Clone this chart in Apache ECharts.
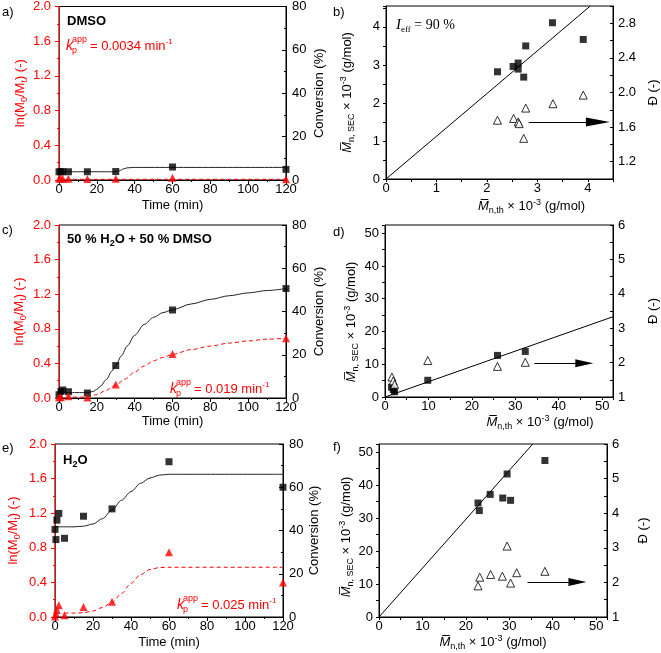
<!DOCTYPE html>
<html><head><meta charset="utf-8">
<script src="https://cdn.jsdelivr.net/npm/echarts@6/dist/echarts.min.js"></script>
<style>html,body{margin:0;padding:0;background:#fff}#c{width:661px;height:653px}</style>
</head><body><div id="c"></div>
<script>
// ---------------- DATA ----------------
// panel a (DMSO)
const tA = [0, 1, 2, 5, 15, 30, 60, 120];
const convA = [3.8, 3.8, 3.8, 3.8, 3.8, 3.9, 6.0, 4.9];
const lnA = [0.015, 0.015, 0.015, 0.015, 0.012, 0.015, 0.027, 0.01];
const fitTA = [0, 30, 32, 34, 36, 40, 120];
const fitConvA = [3.8, 3.8, 4.3, 5.1, 5.6, 5.8, 5.8];
const fitLnTA = [0, 120];
const fitLnA = [0.008, 0.008];

// panel c (50 % H2O + 50 % DMSO)
const tC = [0, 1, 2, 5, 15, 30, 60, 120];
const convC = [1.5, 3.0, 3.7, 2.9, 2.3, 15.0, 40.7, 50.6];
const lnTC = [0, 1, 5, 15, 30, 60, 120];
const lnC = [0.01, 0.01, 0.02, 0.005, 0.155, 0.51, 0.69];
const fitTC = [0, 15, 18, 20, 22, 25, 28, 30, 33, 36, 40, 45, 50, 55, 60, 70, 80, 90, 100, 110, 120];
const fitConvC = [2.5, 2.5, 3, 4, 5.5, 8.5, 12.5, 15, 19.5, 24, 29, 34, 37.3, 39.5, 40.8, 43.5, 45.6, 47.3, 48.6, 49.7, 50.6];
const fitLnTC = [0, 15, 20, 25, 30, 35, 40, 45, 50, 55, 60, 70, 80, 90, 100, 110, 120];
const fitLnC = [0.01, 0.01, 0.04, 0.09, 0.15, 0.22, 0.30, 0.37, 0.43, 0.47, 0.505, 0.56, 0.60, 0.635, 0.66, 0.68, 0.69];

// panel e (H2O)
const tE = [0, 0.5, 1, 2, 5, 15, 30, 60, 120];
const convE = [40.5, 35.8, 44.8, 47.9, 36.4, 46.6, 50.0, 71.8, 60.0];
const lnE = [0.005, 0.04, 0.08, 0.135, 0.02, 0.115, 0.175, 0.75, 0.40];
const fitTE = [0, 10, 15, 20, 25, 30, 35, 40, 45, 50, 55, 60, 120];
const fitConvE = [41.7, 41.7, 42, 43, 45.5, 49.5, 54, 58, 61.8, 64.3, 65.6, 66, 66];
const fitLnTE = [5, 10, 15, 20, 25, 30, 35, 40, 45, 50, 55, 60, 120];
const fitLnE = [0.045, 0.045, 0.05, 0.07, 0.11, 0.17, 0.27, 0.39, 0.49, 0.55, 0.572, 0.575, 0.575];

// panel b
const mthB = [2.21, 2.52, 2.62, 2.62, 2.73, 2.77, 3.30, 3.91];
const msecB = [2.82, 2.96, 2.89, 3.05, 2.68, 3.50, 4.11, 3.67];
const dthB = [2.21, 2.53, 2.62, 2.64, 2.73, 2.77, 3.31, 3.91];
const dispB = [1.68, 1.70, 1.66, 1.64, 1.47, 1.82, 1.87, 1.97];
const lineXB = [0, 4.05];
const lineYB = [0, 4.55];
const arrowXB = [2.83, 4.20];
const arrowYB = [1.66, 1.66];

// panel d
const mthD = [1.5, 1.9, 2.2, 9.85, 25.9, 32.3];
const msecD = [3.0, 2.3, 1.6, 5.1, 12.7, 13.9];
const dthD = [1.6, 1.9, 2.2, 9.85, 25.9, 32.3];
const dispD = [1.58, 1.47, 1.37, 2.06, 1.89, 2.01];
const lineXD = [0, 52.5];
const lineYD = [0, 24.5];
const arrowXD = [34.4, 45.9];
const arrowYD = [1.98, 1.98];

// panel f
const mthF = [22.8, 23.1, 25.6, 28.5, 29.5, 30.3, 38.2];
const msecF = [34.6, 32.3, 37.2, 36.1, 43.4, 35.4, 47.5];
const dthF = [22.8, 23.2, 25.7, 28.4, 29.5, 30.3, 31.7, 38.2];
const dispF = [1.90, 2.15, 2.23, 2.18, 3.05, 1.98, 2.28, 2.32];
const lineXF = [0, 35.4];
const lineYF = [0, 52.5];
const arrowXF = [34.2, 45.7];
const arrowYF = [2.01, 2.01];

// ---------------- STYLE / BUILD ----------------
const FONT = "'Liberation Sans Narrow','Liberation Sans',Arial,sans-serif";
const SERIF = "'Liberation Serif','DejaVu Serif',serif";
const RED = '#ff0000';
const BLK = '#000000';
const pairs = (xs, ys) => xs.map((x, i) => [x, ys[i]]);
const isMult = (v, s, o) => { const k = (v - (o || 0)) / s; return Math.abs(k - Math.round(k)) < 1e-6; };

const grids = [
  {left: 59, top: 6, width: 227, height: 174},   // a
  {left: 386, top: 6, width: 227, height: 173},  // b
  {left: 59, top: 225, width: 227, height: 173}, // c
  {left: 385, top: 225, width: 228, height: 172},// d
  {left: 55, top: 444, width: 228, height: 173}, // e
  {left: 379, top: 444, width: 228, height: 173} // f
].map(g => Object.assign({show: true, borderColor: BLK, borderWidth: 1, backgroundColor: 'transparent', containLabel: false}, g));

const nameRich = (color) => ({
  t: {fontSize: 13, fontFamily: FONT, color: color, lineHeight: 17},
  s: {fontSize: 9, fontFamily: FONT, color: color, lineHeight: 17, verticalAlign: 'bottom'},
  u: {fontSize: 9, fontFamily: FONT, color: color, lineHeight: 17, verticalAlign: 'top'},
  m: {fontSize: 13, fontFamily: FONT, fontStyle: 'italic', color: color, lineHeight: 17}
});

function baseAxis(gi, color) {
  return {
    gridIndex: gi, type: 'value',
    axisLine: {show: true, onZero: false, lineStyle: {color: color, width: 1}},
    axisTick: {show: true, inside: false, length: 4, lineStyle: {color: color}},
    splitLine: {show: false}, minorSplitLine: {show: false},
    axisLabel: {color: color, fontSize: 13, fontFamily: FONT},
    nameLocation: 'middle',
    nameTextStyle: {color: color, fontSize: 13, fontFamily: FONT, rich: nameRich(color)}
  };
}

function timeX(gi, gap) {
  const a = baseAxis(gi, BLK);
  Object.assign(a, {min: 0, max: 120, interval: 20, name: 'Time (min)', nameGap: gap});
  a.minorTick = {show: true, splitNumber: 2, length: 2, lineStyle: {color: BLK}};
  a.axisLabel.margin = 3;
  return a;
}
function lnY(gi, gap, pad) {
  const a = baseAxis(gi, RED);
  Object.assign(a, {position: 'left', min: 0, max: 2, interval: 0.4, z: 3,
    name: '{t|ln(M}{s|0}{t|/M}{s|t}{t|) (-)}', nameGap: gap, nameRotate: 90});
  a.minorTick = {show: true, splitNumber: 2, length: 2, lineStyle: {color: RED}};
  a.axisLabel.margin = 8;
  a.axisLabel.formatter = v => v.toFixed(1);
  a.nameTextStyle.padding = pad || 0;
  return a;
}
function convY(gi, gap) {
  const a = baseAxis(gi, BLK);
  Object.assign(a, {position: 'right', min: 0, max: 80, interval: 20, name: 'Conversion (%)', nameGap: gap, nameRotate: 90});
  a.axisTick.inside = true;
  a.minorTick = {show: true, splitNumber: 2, length: 2, lineStyle: {color: BLK}};
  a.axisLabel.margin = 6;
  return a;
}
function mX(gi, max, step, labStep, gap, pad) {
  const a = baseAxis(gi, BLK);
  Object.assign(a, {min: 0, max: max, interval: step, nameGap: gap,
    name: '{m|M\u0305}{s|n,th}{t| × 10}{u|-3}{t| (g/mol)}'});
  a.axisTick.length = 3;
  a.axisLabel.margin = 3;
  a.axisLabel.formatter = v => isMult(v, labStep) ? String(Math.round(v)) : '';
  a.nameTextStyle.padding = pad || 0;
  return a;
}
function mY(gi, max, step, labStep, gap, pad) {
  const a = baseAxis(gi, BLK);
  Object.assign(a, {position: 'left', min: 0, max: max, interval: step, nameGap: gap, nameRotate: 90,
    name: '{m|M\u0305}{s|n, SEC}{t| × 10}{u|-3}{t| (g/mol)}'});
  a.axisTick.length = 3;
  a.axisLabel.margin = 6;
  a.axisLabel.formatter = v => isMult(v, labStep) ? String(Math.round(v)) : '';
  a.nameTextStyle.padding = pad || 0;
  return a;
}
function dY(gi, min, max, step, labStep, labOrigin, labMin, labMax, dec, gap, pad) {
  const a = baseAxis(gi, BLK);
  Object.assign(a, {position: 'right', min: min, max: max, interval: step, nameGap: gap, nameRotate: 90, name: 'Đ (-)'});
  a.axisTick.inside = true;
  a.axisTick.length = 3;
  a.axisLabel.margin = 5;
  a.axisLabel.formatter = v => (isMult(v, labStep, labOrigin) && v > labMin - 1e-6 && v < labMax + 1e-6) ? v.toFixed(dec) : '';
  a.nameTextStyle.padding = pad || 0;
  return a;
}

const xAxes = [
  timeX(0, 19),
  mX(1, 4.5, 0.5, 1, 19, [0, 0, 0, 64]),
  timeX(2, 14),
  mX(3, 52.5, 5, 10, 17, [0, 0, 0, 82]),
  timeX(4, 19),
  mX(5, 52.5, 5, 10, 17)
];
const yAxes = [
  lnY(0, 28), convY(0, 27),
  mY(1, 4.55, 0.5, 1, 30), dY(1, 1.0, 3.0, 0.2, 0.4, 1.2, 1.2, 2.8, 1, 34),
  lnY(2, 31), convY(2, 27),
  mY(3, 52.5, 5, 10, 25, [0, 22, 0, 0]), dY(3, 1, 6, 0.5, 1, 0, 1, 6, 0, 34),
  lnY(4, 33), convY(4, 25),
  mY(5, 52.5, 5, 10, 24, [0, 13, 0, 0]), dY(5, 1, 6, 0.5, 1, 0, 1, 6, 0, 30)
];

const ARROW = 'path://M5,0L10,30L0,30Z';

function kinetics(gi, fitT, fitConv, t, conv, fitLnT, fitLn, lnT, ln) {
  return [
    {type: 'line', xAxisIndex: gi, yAxisIndex: 2 * gi + 1, data: pairs(fitT, fitConv), showSymbol: false,
     smooth: 0.3, smoothMonotone: 'x', lineStyle: {color: '#222', width: 1}, z: 2, silent: true},
    {type: 'line', xAxisIndex: gi, yAxisIndex: 2 * gi, data: pairs(fitLnT, fitLn), showSymbol: false,
     smooth: 0.3, smoothMonotone: 'x', lineStyle: {color: RED, width: 1, type: [4, 3]}, z: 2, silent: true},
    {type: 'scatter', xAxisIndex: gi, yAxisIndex: 2 * gi + 1, data: pairs(t, conv), symbol: 'rect', symbolSize: 7,
     itemStyle: {color: BLK}, z: 4},
    {type: 'scatter', xAxisIndex: gi, yAxisIndex: 2 * gi, data: pairs(lnT, ln), symbol: 'triangle', symbolSize: 8,
     itemStyle: {color: RED}, z: 5}
  ];
}
function molar(gi, lineX, lineY, mth, msec, dth, disp, arrX, arrY, headSize) {
  return [
    {type: 'line', xAxisIndex: gi, yAxisIndex: 2 * gi, data: pairs(lineX, lineY), showSymbol: false,
     lineStyle: {color: BLK, width: 1}, z: 2, silent: true},
    {type: 'scatter', xAxisIndex: gi, yAxisIndex: 2 * gi, data: pairs(mth, msec), symbol: 'rect', symbolSize: 7,
     itemStyle: {color: BLK}, z: 4},
    {type: 'scatter', xAxisIndex: gi, yAxisIndex: 2 * gi + 1, data: pairs(dth, disp), symbol: 'triangle', symbolSize: 8,
     itemStyle: {color: '#fff', borderColor: BLK, borderWidth: 1}, z: 5,
     markLine: {silent: true, animation: false, symbol: ['none', ARROW], symbolSize: headSize,
       label: {show: false}, emphasis: {disabled: true},
       lineStyle: {color: BLK, width: 1, type: 'solid'},
       data: [[{coord: [arrX[0], arrY[0]]}, {coord: [arrX[1], arrY[1]]}]]}}
  ];
}

const series = [].concat(
  kinetics(0, fitTA, fitConvA, tA, convA, fitLnTA, fitLnA, tA, lnA),
  molar(1, lineXB, lineYB, mthB, msecB, dthB, dispB, arrowXB, arrowYB, [9, 24]),
  kinetics(2, fitTC, fitConvC, tC, convC, fitLnTC, fitLnC, lnTC, lnC),
  molar(3, lineXD, lineYD, mthD, msecD, dthD, dispD, arrowXD, arrowYD, [8, 18]),
  kinetics(4, fitTE, fitConvE, tE, convE, fitLnTE, fitLnE, tE, lnE),
  molar(5, lineXF, lineYF, mthF, msecF, dthF, dispF, arrowXF, arrowYF, [8, 18])
);

function txt(s, x, y, extra) {
  return {type: 'text', x: x, y: y, z: 10,
    style: Object.assign({text: s, fontSize: 13, fontFamily: FONT, fill: BLK, verticalAlign: 'middle', align: 'left'}, extra || {})};
}
function kText(x, y, val) {
  return [
    txt('k', x, y, {fontSize: 14, fontStyle: 'italic', fill: RED}),
    txt('app', x + 6, y - 6, {fontSize: 9, fill: RED}),
    txt('p', x + 6, y + 5, {fontSize: 9, fill: RED}),
    txt('= ' + val + ' min{u|-1}', x + 24, y, {fontSize: 13, fill: RED,
      rich: {u: {fontSize: 8, fontFamily: FONT, fill: RED, verticalAlign: 'top', lineHeight: 17}}})
  ];
}
const boldRich = {s: {fontSize: 9, fontFamily: FONT, fontWeight: 'bold', verticalAlign: 'bottom', lineHeight: 18}};

const graphic = [
  txt('a)', 2, 12), txt('b)', 333, 12), txt('c)', 2, 230), txt('d)', 333, 232), txt('e)', 2, 448), txt('f)', 333, 447),
  txt('DMSO', 67, 21, {fontSize: 13, fontWeight: 'bold'}),
  txt('50 % H{s|2}O + 50 % DMSO', 67, 239, {fontSize: 13, fontWeight: 'bold', rich: boldRich}),
  txt('H{s|2}O', 63, 460, {fontSize: 13, fontWeight: 'bold', rich: boldRich}),
  txt('{i|I}{s|eff}{t| = 90 %}', 396, 25, {fontSize: 14, fontFamily: SERIF,
    rich: {i: {fontSize: 15, fontFamily: SERIF, fontStyle: 'italic', lineHeight: 18},
           s: {fontSize: 9, fontFamily: SERIF, verticalAlign: 'bottom', lineHeight: 18},
           t: {fontSize: 14, fontFamily: SERIF, lineHeight: 18}}})
].concat(kText(66, 46, '0.0034'), kText(170, 389, '0.019'), kText(177, 605, '0.025'));

const chart = echarts.init(document.getElementById('c'), null, {renderer: 'canvas'});
chart.setOption({
  animation: false,
  backgroundColor: '#fff',
  textStyle: {fontFamily: FONT},
  grid: grids,
  xAxis: xAxes,
  yAxis: yAxes,
  series: series,
  graphic: graphic
});
</script></body></html>
